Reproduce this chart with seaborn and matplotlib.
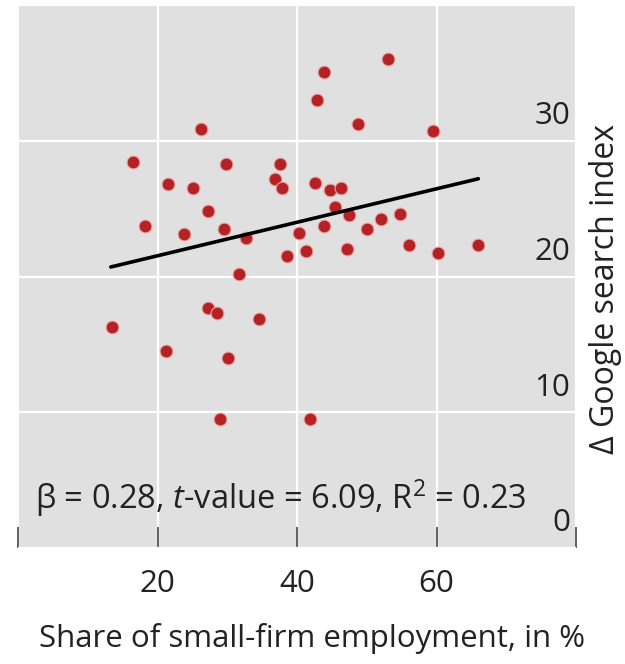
import numpy as np
import pandas as pd
import matplotlib
matplotlib.use("Agg")
import matplotlib.pyplot as plt
import seaborn as sns

# ---- data ----
share_small_firm = [26.2, 16.5, 29.8, 37.5, 21.5, 25.1, 36.8, 37.9, 42.6, 27.3,
                    18.2, 23.8, 29.6, 32.7, 40.3, 41.3, 38.5, 31.7, 42.9, 43.9,
                    53.0, 48.8, 59.5, 44.7, 46.3, 45.5, 47.4, 43.8, 52.0, 54.7,
                    50.1, 47.1, 56.0, 60.2, 65.9, 27.2, 28.5, 34.5, 13.5, 21.2,
                    30.1, 29.0, 41.8]
google_search_delta = [30.9, 28.4, 28.3, 28.3, 26.8, 26.5, 27.2, 26.5, 26.9, 24.8,
                       23.7, 23.1, 23.5, 22.8, 23.2, 21.9, 21.5, 20.2, 33.0, 35.1,
                       36.0, 31.2, 30.7, 26.4, 26.5, 25.1, 24.5, 23.7, 24.2, 24.6,
                       23.5, 22.0, 22.3, 21.7, 22.3, 17.7, 17.3, 16.9, 16.3, 14.5,
                       14.0, 9.5, 9.5]
fit_x = [13.3, 66.0]
fit_y = [20.7, 27.2]
x_ticks = [0, 20, 40, 60, 80]
x_tick_labels = ["", "20", "40", "60", ""]
y_ticks = [0, 10, 20, 30]
y_tick_labels = ["0", "10", "20", "30"]
annotation = r"β = 0.28, $t$-value = 6.09, R$^2$ = 0.23"
x_label = "Share of small-firm employment, in %"
y_label = "Δ Google search index"

df = pd.DataFrame({"share": share_small_firm, "delta": google_search_delta})
fit = pd.DataFrame({"x": fit_x, "y": fit_y})

sns.set_theme(style="darkgrid")
plt.rcParams["font.family"] = ["Open Sans", "DejaVu Sans"]
plt.rcParams["mathtext.fontset"] = "custom"
plt.rcParams["mathtext.rm"] = "Open Sans"
plt.rcParams["mathtext.it"] = "Open Sans:italic"

fig = plt.figure(figsize=(6.25, 6.64), dpi=100)
ax = fig.add_axes([18 / 625, 1 - 548 / 664, 558 / 625, 543 / 664])
ax.set_facecolor("#e0e0e0")

sns.scatterplot(data=df, x="share", y="delta", ax=ax, color="#b52226", s=85,
                edgecolor="#eaa6a2", linewidth=0.8, zorder=3)
sns.lineplot(data=fit, x="x", y="y", ax=ax, color="black", linewidth=2.6, zorder=4)

ax.set_xlim(0, 80)
ax.set_ylim(0, 40)
ax.set_xticks(x_ticks)
ax.set_xticklabels(x_tick_labels)
ax.set_yticks([0, 10, 20, 30, 40])
ax.set_yticklabels([])
ax.grid(True, color="white", linewidth=1.6)
for s in ax.spines.values():
    s.set_visible(False)
ax.tick_params(axis="x", direction="in", length=15, width=1.3, color="#555555",
               pad=15, labelsize=22.5, labelcolor="#222222", bottom=True)
ax.tick_params(axis="y", length=0)

for v, lab in zip(y_ticks, y_tick_labels):
    ax.text(79.2, v + 0.7, lab, ha="right", va="bottom", fontsize=22.5, color="#222222")

ax.text(2.4, 2.9, annotation, ha="left", va="baseline", fontsize=23.5, color="#222222")

ax.set_xlabel(x_label, fontsize=22.5, color="#222222")
ax.xaxis.set_label_coords((312 - 18) / 558, (548 - 638) / 543)
ax.xaxis.label.set_va("center")
ax.set_ylabel(y_label, fontsize=23, color="#222222", rotation=90)
ax.yaxis.set_label_position("right")
ax.yaxis.set_label_coords((605 - 18) / 558, (548 - 289) / 543)
ax.yaxis.label.set_va("center")

fig.savefig("out.png", dpi=100, facecolor="white")
